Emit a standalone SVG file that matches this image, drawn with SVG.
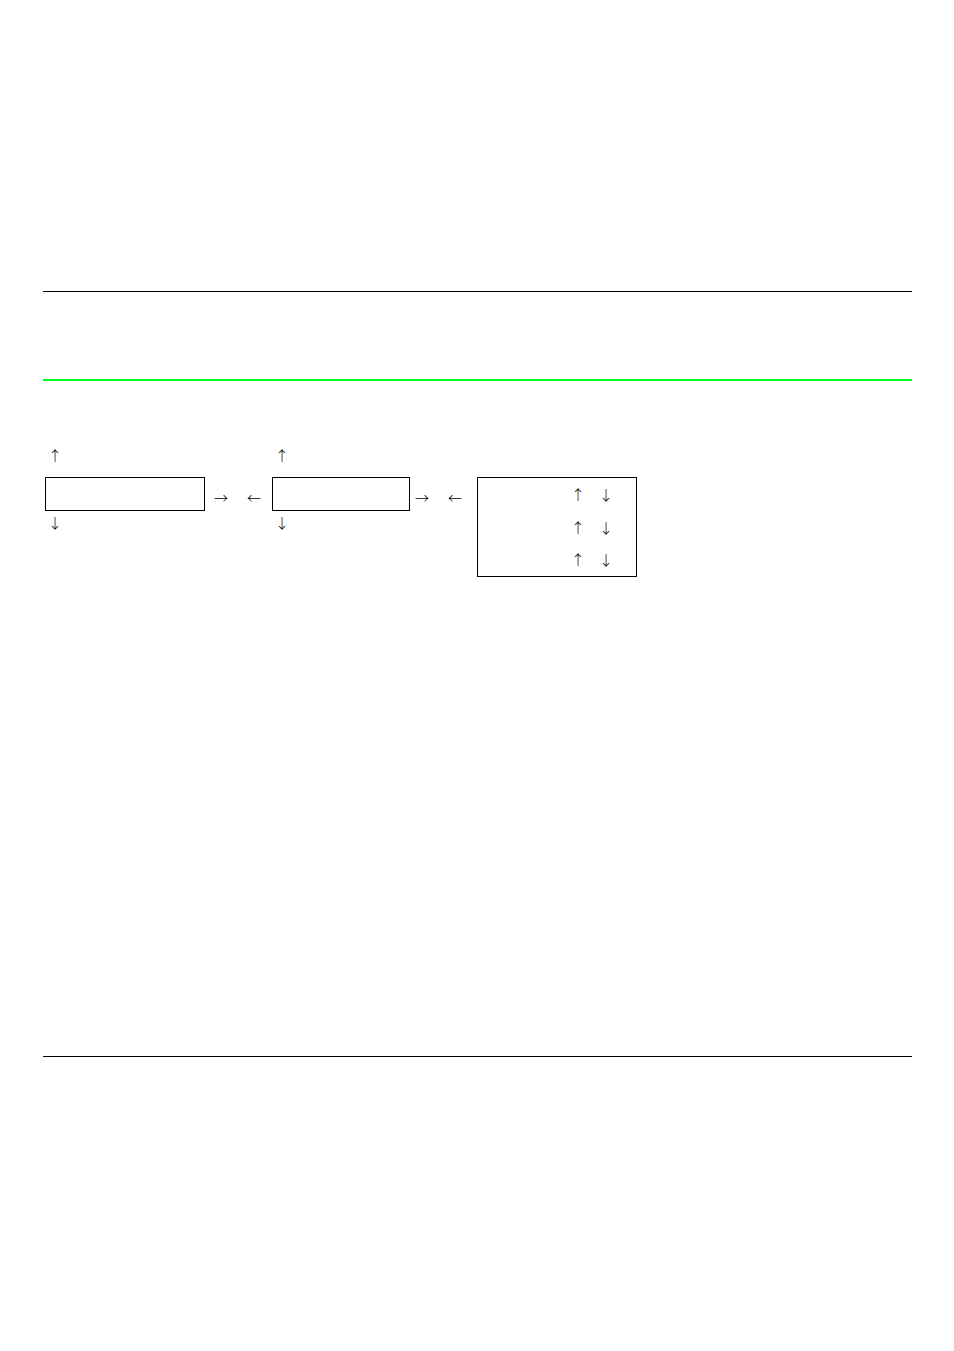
<svg xmlns="http://www.w3.org/2000/svg" width="954" height="1351" viewBox="0 0 954 1351">
<style>
.rule{stroke:#000;stroke-width:1}
.box{fill:#fff;stroke:#000;stroke-width:1}
.a{font-family:"Noto Sans CJK JP","DejaVu Sans",sans-serif;font-size:14px;font-weight:300;fill:#000;text-anchor:middle}
</style>
<rect width="954" height="1351" fill="#fff"/>
<line class="rule" x1="43" y1="291.5" x2="912" y2="291.5"/>
<line x1="43" y1="380" x2="912" y2="380" stroke="#00ff22" stroke-width="2"/>
<line class="rule" x1="43" y1="1056.5" x2="912" y2="1056.5"/>
<g id="node1">
<rect class="box" x="45.5" y="477.5" width="159" height="33"/>
<text class="a" x="55" y="461">↑</text>
<text class="a" x="55" y="528">↓</text>
</g>
<g id="node2">
<rect class="box" x="272.5" y="477.5" width="137" height="33"/>
<text class="a" x="282" y="461">↑</text>
<text class="a" x="282" y="528">↓</text>
</g>
<g id="node3">
<rect class="box" x="477.5" y="477.5" width="159" height="99"/>
<text class="a" x="578" y="500">↑</text>
<text class="a" x="606" y="500">↓</text>
<text class="a" x="578" y="533">↑</text>
<text class="a" x="606" y="533">↓</text>
<text class="a" x="578" y="565">↑</text>
<text class="a" x="606" y="565">↓</text>
</g>
<g id="connectors">
<text class="a" x="221" y="503">→</text>
<text class="a" x="254" y="503">←</text>
<text class="a" x="422" y="503">→</text>
<text class="a" x="455" y="503">←</text>
</g>
</svg>
